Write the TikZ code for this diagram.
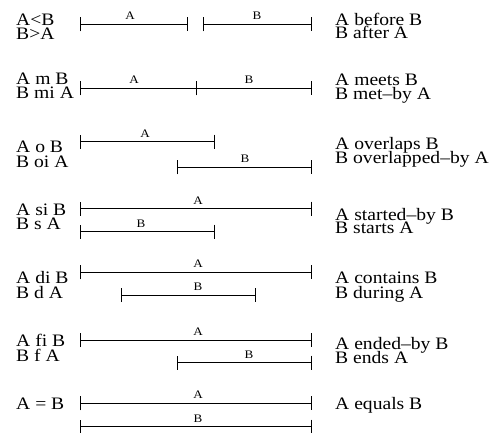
\documentclass[tikz,border=0pt]{standalone}
\usepackage{fontspec}
\setmainfont{Liberation Serif}
\usetikzlibrary{arrows.meta}
\newcommand\wideA[1]{\scalebox{1.12}[1]{#1}}
\newcommand\wideB[1]{\scalebox{1.14}[1]{#1}}
\tikzset{
 rel/.style={anchor=base west, inner sep=0pt, font=\fontsize{17.5}{17.5}\selectfont},
 lbl/.style={anchor=base, inner sep=0pt, font=\fontsize{11.5}{11.5}\selectfont},
 interval/.style={line width=1pt, {Bar[width=14pt]}-{Bar[width=14pt]}},
 openinterval/.style={line width=1pt, {Bar[width=14pt]}-},
}
\begin{document}
\begin{tikzpicture}[x=1pt,y=-1pt]
\useasboundingbox (0,0) rectangle (491,432);
% Row 1: before / after
\coordinate (a1s) at (80,24.3); \coordinate (a1e) at (188,24.3);
\coordinate (b1s) at (203,24.3); \coordinate (b1e) at (312,24.3);
\draw[interval] (a1s) -- (a1e);
\draw[interval] (b1s) -- (b1e);
\node[lbl] (la1) at (130,19.8) {\wideB{A}};
\node[lbl] (lb1) at (257,19.8) {\wideB{B}};
\node[rel] (l1a) at (16,25) {\wideA{A<B}};
\node[rel] (l1b) at (16,39) {\wideA{B>A}};
\node[rel] (r1a) at (335,25) {\wideA{A before B}};
\node[rel] (r1b) at (335,38.5) {\wideA{B after A}};
% Row 2: meets
\coordinate (a2s) at (80,88.3); \coordinate (a2e) at (196,88.3);
\coordinate (b2e) at (312,88.3);
\draw[openinterval] (a2s) -- (a2e);
\draw[interval] (a2e) -- (b2e);
\node[lbl] (la2) at (134,83.8) {\wideB{A}};
\node[lbl] (lb2) at (249,83.8) {\wideB{B}};
\node[rel] (l2a) at (16,84) {\wideA{A m B}};
\node[rel] (l2b) at (16,98.7) {\wideA{B mi A}};
\node[rel] (r2a) at (335,85) {\wideA{A meets B}};
\node[rel] (r2b) at (335,99) {\wideA{B met--by A}};
% Row 3: overlaps
\coordinate (a3s) at (80,141.7); \coordinate (a3e) at (215,141.7);
\coordinate (b3s) at (177,167.3); \coordinate (b3e) at (312,167.3);
\draw[interval] (a3s) -- (a3e);
\draw[interval] (b3s) -- (b3e);
\node[lbl] (la3) at (145,137.2) {\wideB{A}};
\node[lbl] (lb3) at (245,162.8) {\wideB{B}};
\node[rel] (l3a) at (16,152.7) {\wideA{A o B}};
\node[rel] (l3b) at (16,167) {\wideA{B oi A}};
\node[rel] (r3a) at (335,149) {\wideA{A overlaps B}};
\node[rel] (r3b) at (335,163) {\wideA{B overlapped--by A}};
% Row 4: started-by / starts
\coordinate (a4s) at (80,208.7); \coordinate (a4e) at (312,208.7);
\coordinate (b4s) at (80,231.7); \coordinate (b4e) at (215,231.7);
\draw[interval] (a4s) -- (a4e);
\draw[interval] (b4s) -- (b4e);
\node[lbl] (la4) at (198,204.2) {\wideB{A}};
\node[lbl] (lb4) at (141,227.2) {\wideB{B}};
\node[rel] (l4a) at (16,215) {\wideA{A si B}};
\node[rel] (l4b) at (16,229.3) {\wideA{B s A}};
\node[rel] (r4a) at (335,220) {\wideA{A started--by B}};
\node[rel] (r4b) at (335,233.3) {\wideA{B starts A}};
% Row 5: contains / during
\coordinate (a5s) at (80,272.3); \coordinate (a5e) at (312,272.3);
\coordinate (b5s) at (121,295); \coordinate (b5e) at (256,295);
\draw[interval] (a5s) -- (a5e);
\draw[interval] (b5s) -- (b5e);
\node[lbl] (la5) at (198,267.8) {\wideB{A}};
\node[lbl] (lb5) at (198,290.5) {\wideB{B}};
\node[rel] (l5a) at (16,283.3) {\wideA{A di B}};
\node[rel] (l5b) at (16,298) {\wideA{B d A}};
\node[rel] (r5a) at (335,283) {\wideA{A contains B}};
\node[rel] (r5b) at (335,298) {\wideA{B during A}};
% Row 6: ended-by / ends
\coordinate (a6s) at (80,340); \coordinate (a6e) at (312,340);
\coordinate (b6s) at (177,362.7); \coordinate (b6e) at (312,362.7);
\draw[interval] (a6s) -- (a6e);
\draw[interval] (b6s) -- (b6e);
\node[lbl] (la6) at (198,335.5) {\wideB{A}};
\node[lbl] (lb6) at (249,358.2) {\wideB{B}};
\node[rel] (l6a) at (16,346.7) {\wideA{A fi B}};
\node[rel] (l6b) at (16,361.7) {\wideA{B f A}};
\node[rel] (r6a) at (335,349.3) {\wideA{A ended--by B}};
\node[rel] (r6b) at (335,363.3) {\wideA{B ends A}};
% Row 7: equals
\coordinate (a7s) at (80,403.3); \coordinate (a7e) at (312,403.3);
\coordinate (b7s) at (80,426.7); \coordinate (b7e) at (312,426.7);
\draw[interval] (a7s) -- (a7e);
\draw[interval] (b7s) -- (b7e);
\node[lbl] (la7) at (198,398.8) {\wideB{A}};
\node[lbl] (lb7) at (198,422.2) {\wideB{B}};
\node[rel] (l7a) at (16,409.3) {\wideA{A = B}};
\node[rel] (r7a) at (335,409) {\wideA{A equals B}};
\end{tikzpicture}
\end{document}
